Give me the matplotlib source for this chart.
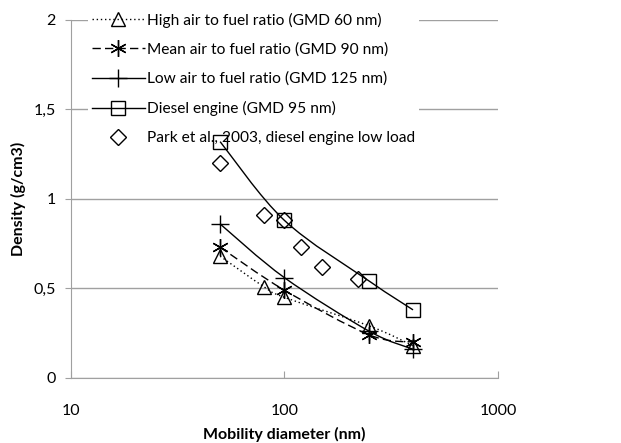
import numpy as np
import matplotlib
matplotlib.use("Agg")
import matplotlib.pyplot as plt
from matplotlib.path import Path
from matplotlib.patches import PathPatch
from matplotlib.lines import Line2D

plt.rcParams['font.family'] = ['Lato', 'DejaVu Sans']

# Data
high_x = [50, 80, 100, 250, 400]
high_y = [0.68, 0.51, 0.45, 0.29, 0.18]
mean_x = [50, 100, 250, 400]
mean_y = [0.73, 0.49, 0.24, 0.20]
low_x = [50, 100, 250, 400]
low_y = [0.86, 0.56, 0.26, 0.16]
diesel_x = [50, 100, 250, 400]
diesel_y = [1.32, 0.88, 0.54, 0.38]
park_x = [50, 80, 100, 120, 150, 220]
park_y = [1.20, 0.91, 0.88, 0.73, 0.62, 0.55]

labels = ["High air to fuel ratio (GMD 60 nm)",
          "Mean air to fuel ratio (GMD 90 nm)",
          "Low air to fuel ratio (GMD 125 nm)",
          "Diesel engine (GMD 95 nm)",
          "Park et al., 2003, diesel engine low load"]
yticks = [0, 0.5, 1, 1.5, 2]
ytick_labels = ["0", "0,5", "1", "1,5", "2"]
xticks = [10, 100, 1000]
xtick_labels = ["10", "100", "1000"]


def smooth_path(xs, ys):
    # Excel-like smoothed line: cubic Bezier (Catmull-Rom) in log-x space
    lx = np.log10(xs)
    y = np.asarray(ys, float)
    n = len(lx)
    verts = [(xs[0], y[0])]
    codes = [Path.MOVETO]
    for i in range(n - 1):
        p0 = (lx[max(i - 1, 0)], y[max(i - 1, 0)])
        p1 = (lx[i], y[i])
        p2 = (lx[i + 1], y[i + 1])
        p3 = (lx[min(i + 2, n - 1)], y[min(i + 2, n - 1)])
        c1 = (p1[0] + (p2[0] - p0[0]) / 6, p1[1] + (p2[1] - p0[1]) / 6)
        c2 = (p2[0] - (p3[0] - p1[0]) / 6, p2[1] - (p3[1] - p1[1]) / 6)
        for c in (c1, c2, p2):
            verts.append((10 ** c[0], c[1]))
        codes += [Path.CURVE4] * 3
    return Path(verts, codes)


fig = plt.figure(figsize=(6.21, 4.43), dpi=100)
ax = fig.add_axes([0.114, 0.147, 0.688, 0.808])
ax.set_xscale('log')
ax.set_xlim(10, 1000)
ax.set_ylim(0, 2)

styles = [
    (high_x, high_y, (0, (1, 2)), '^', 10.5),
    (mean_x, mean_y, (0, (6, 3)), (6, 2, 0), 12),
    (low_x, low_y, '-', '+', 13),
    (diesel_x, diesel_y, '-', 's', 10.5),
]
handles = []
for (xs, ys, ls, mk, ms), lab in zip(styles, labels):
    patch = PathPatch(smooth_path(xs, ys), fill=False, edgecolor='black',
                      linestyle=ls, linewidth=1.0, zorder=3)
    ax.add_patch(patch)
    ax.plot(xs, ys, linestyle='none', marker=mk, markersize=ms,
            markerfacecolor='none', markeredgecolor='black',
            markeredgewidth=1.0, zorder=4)
    handles.append(Line2D([], [], color='black', linestyle=ls, linewidth=1.0,
                          marker=mk, markersize=ms, markerfacecolor='none',
                          markeredgecolor='black', markeredgewidth=1.0))
ax.plot(park_x, park_y, linestyle='none', marker='D', markersize=8,
        markerfacecolor='none', markeredgecolor='black', markeredgewidth=1.0, zorder=4)
handles.append(Line2D([], [], linestyle='none', marker='D', markersize=8,
                      markerfacecolor='none', markeredgecolor='black',
                      markeredgewidth=1.0))

ax.set_yticks(yticks)
ax.set_yticklabels(ytick_labels)
ax.set_xticks(xticks)
ax.set_xticklabels(xtick_labels)
ax.xaxis.set_minor_locator(matplotlib.ticker.NullLocator())
ax.yaxis.grid(True, color='#a0a0a0', linewidth=1.0)
ax.set_axisbelow(True)
for s in ['top', 'right']:
    ax.spines[s].set_visible(False)
for s in ['left', 'bottom']:
    ax.spines[s].set_color('#a0a0a0')
ax.tick_params(axis='x', direction='in', length=5, color='#a0a0a0',
               labelsize=11.5, pad=19)
ax.tick_params(axis='y', direction='out', length=4, color='#a0a0a0',
               labelsize=11.5, pad=7)
ax.set_xlabel("Mobility diameter (nm)", fontsize=11.5, fontweight='bold', labelpad=6)
ax.set_ylabel("Density (g/cm3)", fontsize=11.5, fontweight='bold', labelpad=5)

leg = ax.legend(handles, labels, loc='upper left',
                bbox_to_anchor=(0.129, 0.998), bbox_transform=fig.transFigure,
                frameon=True, fontsize=11.2, handlelength=3.4, handletextpad=0.15,
                labelspacing=0.96, borderpad=0.25)
leg.get_frame().set_edgecolor('none')
leg.get_frame().set_facecolor('white')
leg.get_frame().set_alpha(1)
leg.set_zorder(2.5)

fig.savefig("out.png", dpi=100)
